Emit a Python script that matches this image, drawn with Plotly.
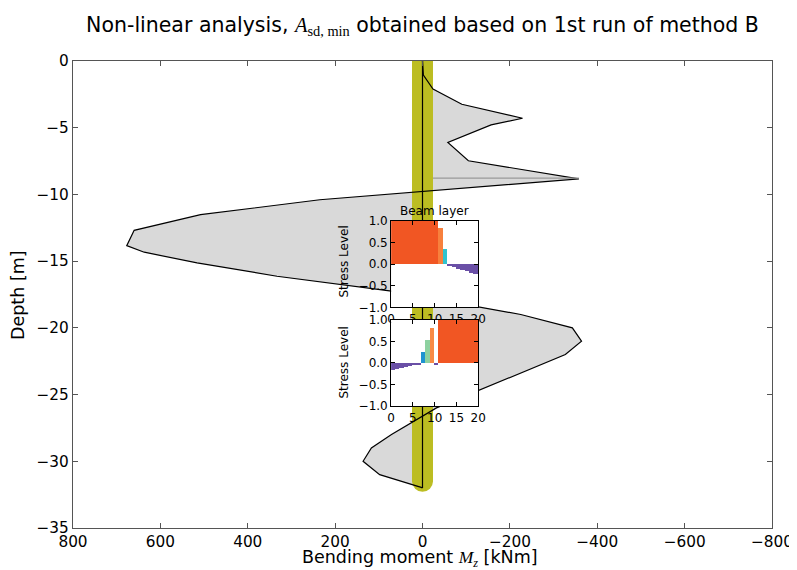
import plotly.graph_objects as go

# ---------------- data ----------------
# bending moment envelope (kNm) vs depth (m)
moment = [0, -2, -24, -90, -229, -157, -58, -105, -358, 235, 508, 660, 677, 637,
          516, 333, 71, -225, -343, -364, -327, -32, 71, 117, 136, 98, 3, 0]
depth = [0, -1.05, -2.1, -3.24, -4.29, -4.79, -6.1, -7.48, -8.83, -10.4, -11.52,
         -12.69, -13.84, -14.33, -15.13, -16.13, -17.25, -19.0, -20.0, -21.0,
         -22.0, -26.0, -28.0, -29.0, -30.0, -31.0, -31.96, -32.0]

# horizontal marker line at the upper peak
peak_line_moment = [-24, -358]
peak_line_depth = [-8.78, -8.78]

# pile (line) and its band
pile_moment = [0, 0]
pile_depth = [0, -32.0]
band_depth = [0, -31.5]

# beam layer stress levels: cell edges + levels
upper_edges = [0, 10.9, 12.0, 12.9, 13.9, 14.9, 15.9, 16.9, 17.9, 18.9, 20.0]
upper_level = [1.0, 0.83, 0.36, -0.03, -0.06, -0.10, -0.13, -0.16, -0.20, -0.23]

lower_edges = [0, 0.97, 1.94, 2.91, 3.88, 4.85, 5.82, 6.8, 7.8, 8.9, 9.9, 10.85, 20.0]
lower_level = [-0.15, -0.13, -0.11, -0.09, -0.06, -0.04, -0.02, 0.26, 0.53, 0.82, -0.02, 1.0]

x_ticks = [800, 600, 400, 200, 0, -200, -400, -600, -800]
y_ticks = [0, -5, -10, -15, -20, -25, -30, -35]

# ---------------- layout helpers ----------------
FONT = "DejaVu Sans"
OFF = 8                       # page body margin
W, H = 797, 570
# plot area in window pixels
L, R, T, B = 73, 775, 61, 528.5


def px_x(p):
    return (p - L) / (R - L)


def px_y(p):
    return (B - p) / (B - T)


def level_color(v):
    if v < 0:
        return "#6a4fa6"
    if v < 0.3:
        return "#1f93d0"
    if v < 0.45:
        return "#2fc3cf"
    if v < 0.65:
        return "#8dd1a0"
    if v < 0.8:
        return "#fbb060"
    if v < 0.99:
        return "#f88a45" if v < 0.825 else "#f7803d"
    return "#f15623"


def bars(edges, levels, xa, ya):
    xs = [(edges[i] + edges[i + 1]) / 2 for i in range(len(levels))]
    ws = [edges[i + 1] - edges[i] for i in range(len(levels))]
    cols = [level_color(v) for v in levels]
    return go.Bar(x=xs, y=levels, width=ws, marker=dict(color=cols, line=dict(width=0)),
                  xaxis=xa, yaxis=ya, showlegend=False, hoverinfo="skip")


fig = go.Figure()

# filled envelope
fig.add_trace(go.Scatter(x=moment, y=depth, fill="toself", fillcolor="#d9d9d9",
                         mode="lines", line=dict(width=0, color="rgba(0,0,0,0)"),
                         showlegend=False, hoverinfo="skip"))
# band
fig.add_trace(go.Scatter(x=pile_moment, y=band_depth, mode="lines",
                         line=dict(color="#bcbd22", width=21), showlegend=False, hoverinfo="skip"))
fig.add_trace(go.Scatter(x=[pile_moment[1]], y=[band_depth[1]], mode="markers",
                         marker=dict(color="#bcbd22", size=21, line=dict(width=0)),
                         showlegend=False, hoverinfo="skip"))
# envelope outline
fig.add_trace(go.Scatter(x=moment, y=depth, mode="lines", line=dict(color="black", width=1.2),
                         showlegend=False, hoverinfo="skip"))
fig.add_trace(go.Scatter(x=peak_line_moment, y=peak_line_depth, mode="lines",
                         line=dict(color="#999999", width=1.2), showlegend=False, hoverinfo="skip"))
# pile line
fig.add_trace(go.Scatter(x=pile_moment, y=pile_depth, mode="lines",
                         line=dict(color="black", width=1.2), showlegend=False, hoverinfo="skip"))

# insets
fig.add_trace(bars(upper_edges, upper_level, "x2", "y2"))
fig.add_trace(bars(lower_edges, lower_level, "x3", "y3"))

axis_common = dict(showgrid=False, zeroline=False, ticks="inside", mirror="ticks",
                   showline=True, tickfont=dict(family=FONT, color="black"))

inset_x = [px_x(392.5), px_x(480)]
up_y = [px_y(307.6), px_y(221)]
lo_y = [px_y(406.6), px_y(320)]

fig.update_layout(
    width=W, height=H,
    margin=dict(l=L - OFF, r=W - (R - OFF), t=T - OFF, b=H - (B - OFF)),
    paper_bgcolor="white", plot_bgcolor="white",
    bargap=0,
    font=dict(family=FONT, color="black"),
    title=dict(
        text="Non-linear analysis, <span style=\"font-family:Liberation Serif\"><i>A</i><sub>sd, min</sub></span> obtained based on 1st run of method B",
        x=0.5, xref="paper", xanchor="center", y=1 - (25 - OFF) / H, yref="container",
        yanchor="middle",
        font=dict(size=20.5, family=FONT, color="black")),
    xaxis=dict(axis_common, range=[800, -800], tickvals=x_ticks, ticklen=5,
               linecolor="#555555", tickcolor="#555555", linewidth=1.2,
               tickfont=dict(size=15.3, family=FONT), domain=[0, 1], anchor="y"),
    yaxis=dict(axis_common, range=[-35, 0], tickvals=y_ticks, ticklen=5,
               linecolor="#555555", tickcolor="#555555", linewidth=1.2,
               tickfont=dict(size=15.3, family=FONT), domain=[0, 1], anchor="x"),
    xaxis2=dict(axis_common, range=[0, 20], tickvals=[0, 5, 10, 15, 20], ticklen=4,
                linecolor="black", tickcolor="black", linewidth=1,
                tickfont=dict(size=12, family=FONT), domain=inset_x, anchor="y2"),
    yaxis2=dict(axis_common, range=[-1, 1], tickvals=[-1, -0.5, 0, 0.5, 1], tickformat=".1f",
                ticklen=4, linecolor="black", tickcolor="black", linewidth=1,
                tickfont=dict(size=12, family=FONT), domain=up_y, anchor="x2"),
    xaxis3=dict(axis_common, range=[0, 20], tickvals=[0, 5, 10, 15, 20], ticklen=4,
                linecolor="black", tickcolor="black", linewidth=1,
                tickfont=dict(size=12, family=FONT), domain=inset_x, anchor="y3"),
    yaxis3=dict(axis_common, range=[-1, 1], tickvals=[-1, -0.5, 0, 0.5, 1], tickformat=".1f",
                ticklen=4, linecolor="black", tickcolor="black", linewidth=1,
                tickfont=dict(size=12, family=FONT), domain=lo_y, anchor="x3"),
    annotations=[
        dict(text="Depth [m]", x=px_x(18), y=px_y(295), xref="paper", yref="paper",
             textangle=-90, showarrow=False, font=dict(size=17.5, family=FONT),
             xanchor="center", yanchor="middle"),
        dict(text="Bending moment <span style=\"font-family:Liberation Serif\"><i>M<sub>z</sub></i></span> [kNm]",
             x=px_x(421), y=px_y(559), xref="paper", yref="paper", showarrow=False,
             font=dict(size=17.5, family=FONT), xanchor="center", yanchor="middle"),
        dict(text="Beam layer", x=px_x(436), y=px_y(211), xref="paper", yref="paper",
             showarrow=False, font=dict(size=12, family=FONT), xanchor="center", yanchor="middle"),
        dict(text="Stress Level", x=px_x(345), y=px_y(262), xref="paper", yref="paper",
             textangle=-90, showarrow=False, font=dict(size=12, family=FONT),
             xanchor="center", yanchor="middle"),
        dict(text="Stress Level", x=px_x(345), y=px_y(363), xref="paper", yref="paper",
             textangle=-90, showarrow=False, font=dict(size=12, family=FONT),
             xanchor="center", yanchor="middle"),
    ],
)

fig.write_html("out.html", config={"displayModeBar": False})
